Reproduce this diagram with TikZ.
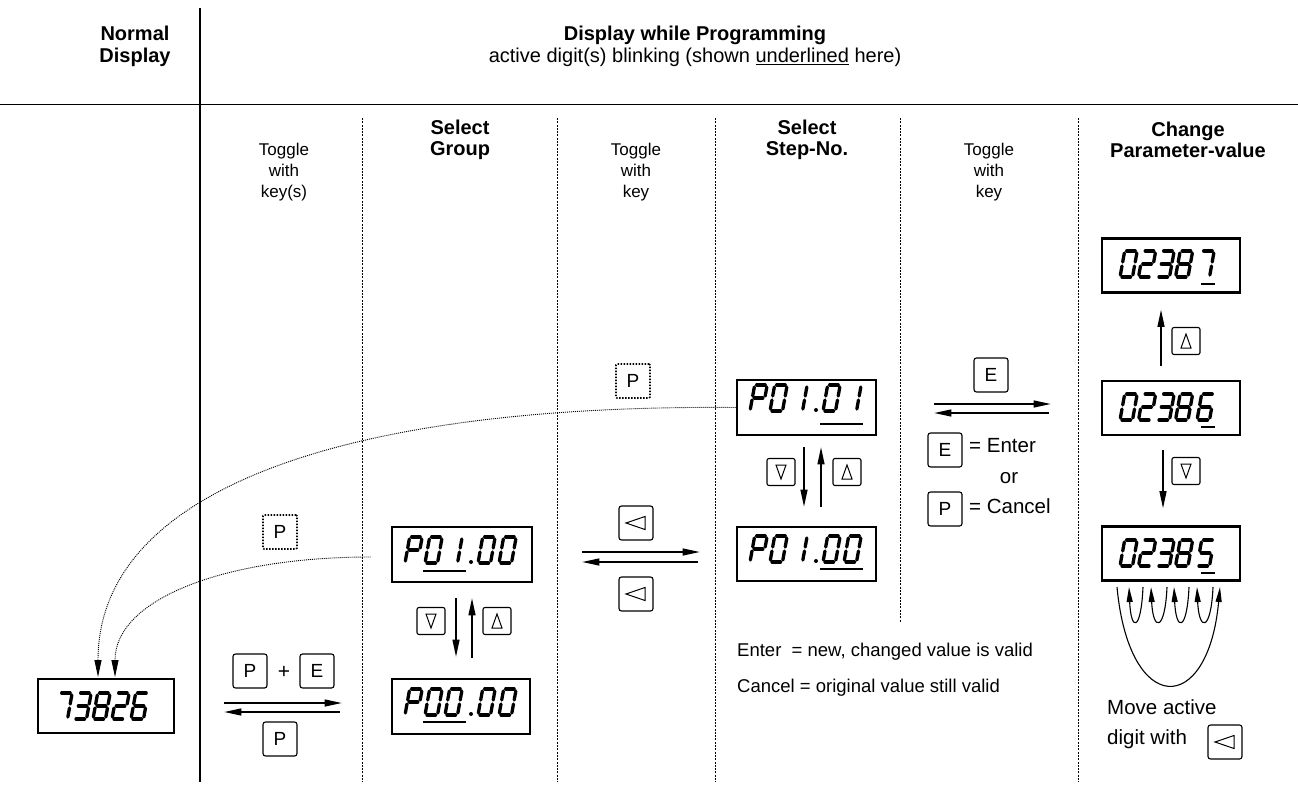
\documentclass[tikz,border=0pt]{standalone}
\usepackage{fontspec}
\setmainfont{Liberation Sans}
\usetikzlibrary{arrows.meta}
\tikzset{
  dispbox/.style={draw, line width=2.6pt, minimum width=138pt, minimum height=54pt, inner sep=0pt},
  keybox/.style={draw, line width=1.1pt, rounded corners=2.5pt, minimum width=34pt, minimum height=34pt, inner sep=0pt, font=\fontsize{19}{19}\selectfont},
  trikey/.style={draw, line width=1.1pt, rounded corners=2pt, minimum width=28pt, minimum height=27pt, inner sep=0pt},
  dotkey/.style={keybox, dash pattern=on 1.5pt off 1.5pt, line width=1.6pt, rounded corners=1pt},
  flow/.style={line width=1.2pt, -{Triangle[length=17pt,width=7pt]}},
  divider/.style={line width=0.8pt, dash pattern=on 2pt off 1.3pt},
  jump/.style={line width=0.9pt, dash pattern=on 1pt off 1pt, -{Triangle[length=17pt,width=7pt]}},
  loopar/.style={line width=1.1pt, -{Triangle[length=15pt,width=6pt]}},
  segline/.style={line width=3.3pt, line cap=round},
  uline/.style={line width=2.2pt},
  sym/.style={line width=1pt, line join=miter},
  txt/.style={inner sep=0pt, font=\fontsize{18.5}{22}\selectfont},
  bigtxt/.style={inner sep=0pt, font=\fontsize{20.5}{22}\selectfont},
  headb/.style={inner sep=0pt, align=center, font=\bfseries\fontsize{20}{22}\selectfont},
  colhead/.style={inner sep=0pt, align=center, font=\bfseries\fontsize{20}{21}\selectfont},
  toggletxt/.style={inner sep=0pt, align=center, font=\fontsize{17}{21}\selectfont},
}
\newcommand\sSga{\draw[segline] (2,26) -- (10.5,26);}
\newcommand\sSgb{\draw[segline] (12.5,24) -- (12.5,15);}
\newcommand\sSgc{\draw[segline] (12.5,11) -- (12.5,2);}
\newcommand\sSgd{\draw[segline] (2,0) -- (10.5,0);}
\newcommand\sSge{\draw[segline] (0,2) -- (0,11);}
\newcommand\sSgf{\draw[segline] (0,15) -- (0,24);}
\newcommand\sSgg{\draw[segline] (2,13) -- (10.5,13);}
\newcommand\dgt[3]{%
  \begin{scope}[shift={(#1,#2)}, x={(1pt,0pt)}, y={(0.18pt,1pt)}]
  \ifcase#3 \sSga\sSgb\sSgc\sSgd\sSge\sSgf
  \or \sSgb\sSgc
  \or \sSga\sSgb\sSgg\sSge\sSgd
  \or \sSga\sSgb\sSgg\sSgc\sSgd
  \or \sSgf\sSgg\sSgb\sSgc
  \or \sSga\sSgf\sSgg\sSgc\sSgd
  \or \sSga\sSgf\sSgg\sSge\sSgc\sSgd
  \or \sSga\sSgb\sSgc
  \or \sSga\sSgb\sSgc\sSgd\sSge\sSgf\sSgg
  \or \sSga\sSgb\sSgf\sSgg\sSgc\sSgd
  \or \sSga\sSgb\sSgf\sSgg\sSge
  \fi
  \end{scope}}
\newcommand\dpt[2]{\fill (#1,#2) circle (2pt);}
\newcommand\undl[3]{\draw[uline] (#1,#3) -- (#2,#3);}
\newcommand\symdown[1]{\draw[sym, shift={(#1)}] (-5,-7) -- (5,-7) -- (0,7) -- cycle;}
\newcommand\symup[1]{\draw[sym, shift={(#1)}] (-5,7) -- (5,7) -- (0,-7) -- cycle;}
\newcommand\symleft[1]{\draw[sym, shift={(#1)}] (9,-6.5) -- (-10,0) -- (9,6.5) -- cycle;}
\begin{document}
\begin{tikzpicture}[x=1pt,y=-1pt]
\useasboundingbox (0,0) rectangle (1298,789);
% frame
\draw[line width=2.2pt] (200,8) -- (200,782);
\draw[line width=1pt] (0,105) -- (1298,105);
\foreach \xx in {362,557,715,1078} {\draw[divider] (\xx,118) -- (\xx,782);}
\draw[divider] (900,118) -- (900,622);
% headers
\node[headb] (hnorm) at (135,46) {Normal\\Display};
\node[headb] (hprog) at (695,35) {Display while Programming};
\node[inner sep=0pt, font=\fontsize{20}{22}\selectfont] (hsub) at (695,57) {active digit(s) blinking (shown \underline{underlined} here)};
\node[colhead] (hgrp) at (460,140) {Select\\Group};
\node[colhead] (hstep) at (807,140) {Select\\Step-No.};
\node[colhead] (hpar) at (1188,140) {Change\\Parameter-value};
\node[toggletxt] (tg1) at (284,172) {Toggle\\with\\key(s)};
\node[toggletxt] (tg2) at (636,172) {Toggle\\with\\key};
\node[toggletxt] (tg3) at (989,172) {Toggle\\with\\key};
% displays
\node[dispbox, minimum width=136pt] (nd) at (106,706) {};
\node[dispbox, minimum width=140pt, minimum height=55pt] (g1) at (462,554.5) {};
\node[dispbox, minimum height=55pt] (g0) at (461,706.5) {};
\node[dispbox, minimum width=139pt, minimum height=55pt] (s1) at (806.5,407.5) {};
\node[dispbox, minimum width=139pt] (s0) at (806.5,554) {};
\node[dispbox] (p7) at (1171,265.5) {};
\node[dispbox] (p6) at (1171,408) {};
\node[dispbox] (p5) at (1171,553.5) {};
% digits 73826
\dgt{55}{719}{7}\dgt{74}{719}{3}\dgt{93}{719}{8}\dgt{112}{719}{2}\dgt{131}{719}{6}
% P01.00 group
\dgt{405}{563}{10}\dgt{425}{563}{0}\dgt{445}{563}{1}\dpt{471}{562}\dgt{478}{563}{0}\dgt{499}{563}{0}
\undl{423}{466}{571}
% P00.00
\dgt{405}{715}{10}\dgt{425}{715}{0}\dgt{445}{715}{0}\dpt{471}{714}\dgt{478}{715}{0}\dgt{499}{715}{0}
\undl{423}{466}{722}
% P01.01 step
\dgt{750}{411}{10}\dgt{770}{411}{0}\dgt{790}{411}{1}\dpt{816}{410}\dgt{823}{411}{0}\dgt{844}{411}{1}
\undl{820}{863}{424}
% P01.00 step
\dgt{750}{562}{10}\dgt{770}{562}{0}\dgt{790}{562}{1}\dpt{816}{561}\dgt{823}{562}{0}\dgt{844}{562}{0}
\undl{820}{863}{569}
% 02387 / 02386 / 02385
\dgt{1120}{277}{0}\dgt{1138.5}{277}{2}\dgt{1157}{277}{3}\dgt{1175.5}{277}{8}\dgt{1197}{277}{7}
\undl{1201}{1215}{284}
\dgt{1120}{420}{0}\dgt{1138.5}{420}{2}\dgt{1157}{420}{3}\dgt{1175.5}{420}{8}\dgt{1197}{420}{6}
\undl{1201}{1215}{427}
\dgt{1120}{566}{0}\dgt{1138.5}{566}{2}\dgt{1157}{566}{3}\dgt{1175.5}{566}{8}\dgt{1197}{566}{5}
\undl{1201}{1215}{573}
% keys
\node[keybox] (kp1) at (250,671) {P};
\node[inner sep=0pt, font=\fontsize{21}{21}\selectfont] (plus) at (284,672) {+};
\node[keybox] (ke1) at (317,671) {E};
\node[keybox] (kp2) at (280,739) {P};
\node[dotkey] (dp1) at (280,532) {P};
\node[dotkey] (dp2) at (633,381) {P};
\node[trikey] (kgd) at (431,621) {};\symdown{kgd.center}
\node[trikey] (kgu) at (497,621) {};\symup{kgu.center}
\node[keybox] (kl1) at (636,523) {};\symleft{kl1.center}
\node[keybox] (kl2) at (636,594) {};\symleft{kl2.center}
\node[trikey] (ksd) at (781,472) {};\symdown{ksd.center}
\node[trikey] (ksu) at (847,472) {};\symup{ksu.center}
\node[keybox] (ke2) at (991,375) {E};
\node[keybox] (ke3) at (945,450) {E};
\node[bigtxt, anchor=west] (tenter) at (969,446) {= Enter};
\node[bigtxt] (tor) at (1009,478) {or};
\node[keybox] (kp3) at (945,509) {P};
\node[bigtxt, anchor=west] (tcancel) at (969,506) {= Cancel};
\node[trikey] (kpu) at (1186,341) {};\symup{kpu.center}
\node[trikey] (kpd) at (1186,471) {};\symdown{kpd.center}
\node[bigtxt, anchor=west] (tmove) at (1107,707) {Move active};
\node[bigtxt, anchor=west] (tdigit) at (1107,739) {digit with};
\node[keybox] (kl3) at (1225,742) {};\symleft{kl3.center}
\node[txt, anchor=west] (lent) at (737,652) {Enter\ \ = new, changed value is valid};
\node[txt, anchor=west] (lcan) at (737,688) {Cancel = original value still valid};
% vertical arrows
\draw[flow] ([xshift=-6pt,yshift=-15pt]g1.south) -- ([xshift=-5pt,yshift=21pt]g0.north);
\draw[flow] ([xshift=11pt,yshift=20pt]g0.north) -- ([xshift=10pt,yshift=-15pt]g1.south);
\draw[flow] ([xshift=-2.5pt,yshift=-11pt]s1.south) -- ([xshift=-2.5pt,yshift=19pt]s0.north);
\draw[flow] ([xshift=14.5pt,yshift=19pt]s0.north) -- ([xshift=14.5pt,yshift=-11pt]s1.south);
\draw[flow] ([xshift=-10pt,yshift=14pt]p6.north) -- ([xshift=-10pt,yshift=-16pt]p7.south);
\draw[flow] ([xshift=-8pt,yshift=-14pt]p6.south) -- ([xshift=-8pt,yshift=17pt]p5.north);
% horizontal toggles
\draw[flow] ([xshift=49pt,yshift=3pt]nd.east) -- ([xshift=-49pt,yshift=3.5pt]g0.west);
\draw[flow] ([xshift=-51pt,yshift=-5.5pt]g0.west) -- ([xshift=49pt,yshift=-6pt]nd.east);
\draw[flow] ([xshift=49pt,yshift=2.5pt]g1.east) -- ([xshift=-36pt,yshift=2pt]s0.west);
\draw[flow] ([xshift=-38pt,yshift=-8pt]s0.west) -- ([xshift=49pt,yshift=-7.5pt]g1.east);
\draw[flow] ([xshift=57pt,yshift=3.5pt]s1.east) -- ([xshift=-50pt,yshift=4pt]p6.west);
\draw[flow] ([xshift=-52pt,yshift=-5pt]p6.west) -- ([xshift=57pt,yshift=-5.5pt]s1.east);
% dotted jumps back to normal display
\coordinate (nda) at (98,677);
\coordinate (ndb) at (115,677);
\draw[jump] (s1.west) .. controls (330,404) and (98,495) .. (nda);
\draw[jump] ([xshift=-20pt,yshift=-2.5pt]g1.west) .. controls (222,557) and (115,600) .. (ndb);
% digit-move loops
\coordinate (lt0) at (1117,587);
\coordinate (lt1) at (1143,587);
\coordinate (lt2) at (1167,587);
\coordinate (lt3) at (1189,587);
\coordinate (lt4) at (1213,587);
\coordinate (ah1) at (1129,587);
\coordinate (ah2) at (1151,587);
\coordinate (ah3) at (1174,587);
\coordinate (ah4) at (1197,587);
\coordinate (ah5) at (1220,587);
\draw[loopar] (lt1) .. controls +(-2,45) and +(2,45) .. (ah1);
\draw[loopar] (lt2) .. controls +(-2,45) and +(2,45) .. (ah2);
\draw[loopar] (lt3) .. controls +(-2,45) and +(2,45) .. (ah3);
\draw[loopar] (lt4) .. controls +(-2,45) and +(2,45) .. (ah4);
\draw[loopar] (lt0) .. controls +(12,130) and +(-12,130) .. (ah5);
\end{tikzpicture}
\end{document}
